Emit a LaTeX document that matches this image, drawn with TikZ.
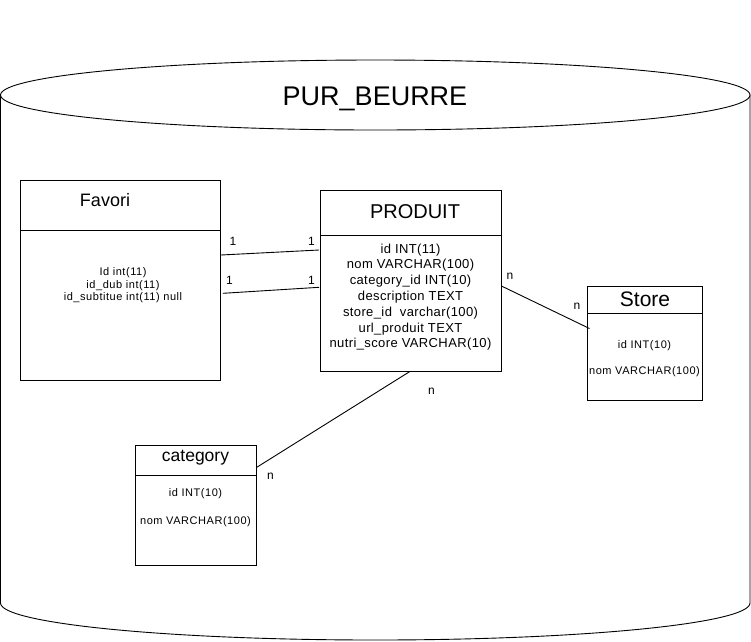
\documentclass[tikz,border=0pt]{standalone}
\usepackage{fontspec}
\setmainfont{Liberation Sans}
\usetikzlibrary{calc}
\newcommand\fsz[1]{\fontsize{#1}{#1}\selectfont}
\tikzset{
  x=1pt, y=1pt,
  tbl/.style={draw, line width=0.9pt, anchor=north west, inner sep=0pt, fill=white},
  sep/.style={line width=0.9pt},
  conn/.style={line width=0.9pt},
  cyl/.style={draw, line width=0.9pt, fill=white},
  txt/.style={anchor=base, inner sep=0pt},
  small/.style={txt, font={\fsz{11}\addfontfeature{LetterSpace=5}}},
  mid/.style={txt, font={\fsz{13}\addfontfeature{LetterSpace=3}}},
  lbl/.style={inner sep=0pt, font={\fsz{12}}},
}
\begin{document}
\begin{tikzpicture}
\useasboundingbox (0,0) rectangle (751,-641);
% cylinder
\path[cyl] (0.5,-95) -- (0.5,-603) arc[start angle=180, end angle=360, x radius=374.75pt, y radius=37pt] -- (750,-95) -- cycle;
\draw[cyl] (375.25,-95) ellipse [x radius=374.75pt, y radius=35pt];
\node[txt, font={\fsz{27}}] (title) at (375,-105) {PUR\_BEURRE};

% Favori
\node[tbl, minimum width=200pt, minimum height=200pt] (favori) at (20,-180) {};
\draw[sep] ($(favori.north west)+(0,-50.5)$) -- ($(favori.north east)+(0,-50.5)$);
\node[txt, font={\fsz{18}}] (favt) at (105,-206.5) {Favori};
\node[small] (fav1) at (123,-275) {Id int(11)};
\node[small] (fav2) at (123,-288.3) {id\_dub int(11)};
\node[small] (fav3) at (123,-300.7) {id\_subtitue int(11) null};

% PRODUIT
\node[tbl, minimum width=180.5pt, minimum height=180.5pt] (produit) at (320,-190) {};
\draw[sep] ($(produit.north west)+(0,-45)$) -- ($(produit.north east)+(0,-45)$);
\node[txt, font={\fsz{20}}] (prodt) at (415,-218.3) {PRODUIT};
\node[mid] (p1) at (410.5,-253) {id INT(11)};
\node[mid] (p2) at (410.5,-268.8) {nom VARCHAR(100)};
\node[mid] (p3) at (410.5,-284.6) {category\_id INT(10)};
\node[mid] (p4) at (410.5,-300.4) {description TEXT};
\node[mid] (p5) at (410.5,-316.2) {store\_id\ \ varchar(100)};
\node[mid] (p6) at (410.5,-332) {url\_produit TEXT};
\node[mid] (p7) at (410.5,-347.8) {nutri\_score VARCHAR(10)};

% Store
\node[tbl, minimum width=115pt, minimum height=114.5pt] (store) at (587,-285.5) {};
\draw[sep] ($(store.north west)+(0,-28)$) -- ($(store.north east)+(0,-28)$);
\node[txt, font={\fsz{21}}] (storet) at (645,-306.7) {Store};
\node[small] (s1) at (644.5,-348.3) {id INT(10)};
\node[small] (s2) at (644.5,-374) {nom VARCHAR(100)};

% category
\node[tbl, minimum width=120.5pt, minimum height=120pt] (category) at (135,-445) {};
\draw[sep] ($(category.north west)+(0,-30)$) -- ($(category.north east)+(0,-30)$);
\node[txt, font={\fsz{17.5}}] (catt) at (195.5,-461.7) {category};
\node[small] (c1) at (195.5,-496.7) {id INT(10)};
\node[small] (c2) at (195.5,-524.3) {nom VARCHAR(100)};

% connector end points
\coordinate (fa1) at ($(favori.north east)+(0,-75)$);
\coordinate (pa1) at ($(produit.north west)+(-1,-60)$);
\coordinate (fa2) at ($(favori.north east)+(2,-113.3)$);
\coordinate (pa2) at ($(produit.north west)+(-1,-97.3)$);
\coordinate (ps) at ($(produit.north east)+(0,-96)$);
\coordinate (sp) at ($(store.north west)+(2.5,-43)$);
\coordinate (pc) at ($(produit.south west)+(90,0)$);
\coordinate (cp) at ($(category.north east)+(0,-22.5)$);

\draw[conn] (fa1) -- (pa1);
\draw[conn] (fa2) -- (pa2);
\draw[conn] (ps) -- (sp);
\draw[conn] (pc) -- (cp);

% labels
\node[lbl] (l1) at (233,-241) {1};
\node[lbl] (l2) at (311.5,-241) {1};
\node[lbl] (l3) at (229.5,-280) {1};
\node[lbl] (l4) at (311.5,-280) {1};
\node[lbl] (n1) at (510,-276) {n};
\node[lbl] (n2) at (577,-306) {n};
\node[lbl] (n3) at (431.5,-391) {n};
\node[lbl] (n4) at (270.5,-476) {n};
\end{tikzpicture}
\end{document}
